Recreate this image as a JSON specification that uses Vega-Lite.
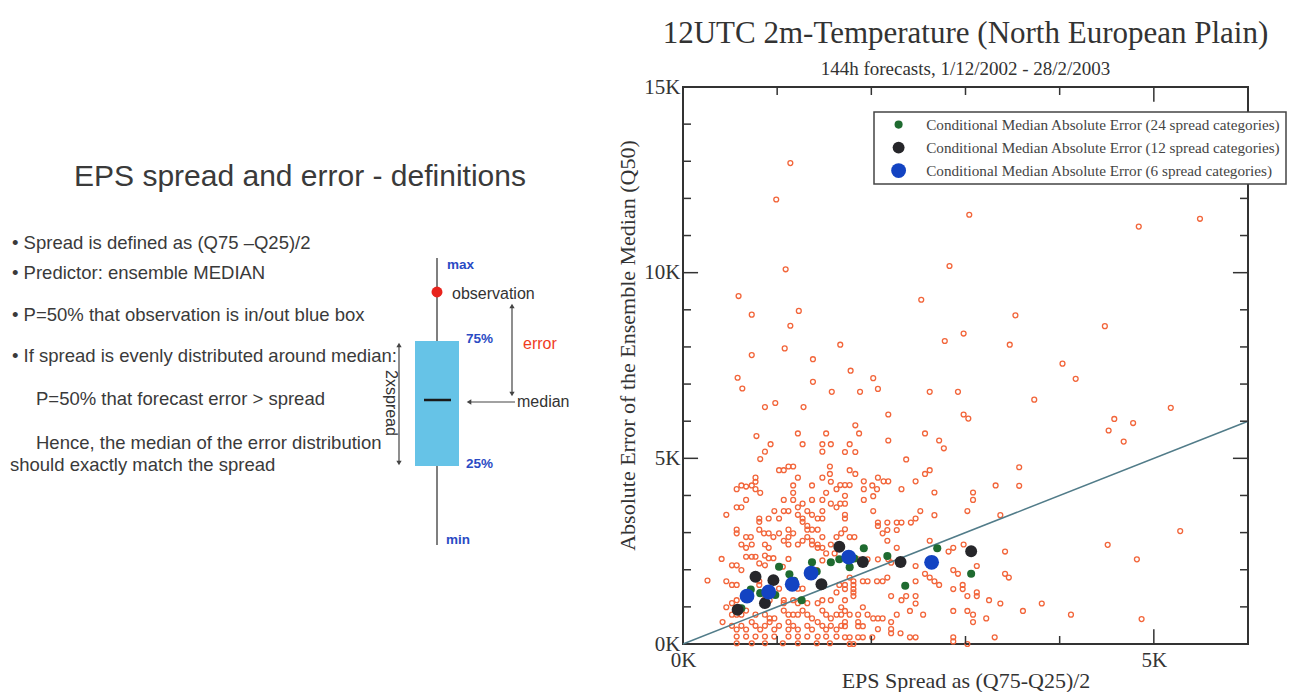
{
  "$schema": "https://vega.github.io/schema/vega-lite/v6.json",
  "width": 565,
  "height": 557,
  "autosize": {"type": "none"},
  "padding": {"left": 683, "top": 87, "right": 61, "bottom": 48},
  "background": "white",
  "title": {
    "text": "12UTC 2m-Temperature (North European Plain)",
    "subtitle": "144h forecasts, 1/12/2002 - 28/2/2003",
    "frame": "group",
    "anchor": "middle",
    "font": "Liberation Serif",
    "fontSize": 31,
    "fontWeight": "normal",
    "color": "#333333",
    "subtitleFont": "Liberation Serif",
    "subtitleFontSize": 19,
    "subtitleColor": "#333333",
    "subtitlePadding": 10,
    "offset": -4
  },
  "config": {
    "view": {"stroke": "#333333", "strokeWidth": 2},
    "legend": {"strokeWidth": 1.5}
  },
  "datasets": {
    "spreadError": [
      {"spread":1.14,"error":12.95},{"spread":0.99,"error":11.97},{"spread":3.04,"error":11.56},{"spread":1.09,"error":10.09},{"spread":2.83,"error":10.18},{"spread":0.59,"error":9.37},{"spread":2.53,"error":9.27},{"spread":0.73,"error":8.87},{"spread":1.23,"error":8.97},{"spread":1.14,"error":8.57},{"spread":2.98,"error":8.36},{"spread":2.78,"error":8.16},{"spread":0.73,"error":7.78},{"spread":1.08,"error":7.96},{"spread":1.67,"error":8.06},{"spread":1.38,"error":7.67},{"spread":1.78,"error":7.36},{"spread":0.58,"error":7.17},{"spread":0.63,"error":6.88},{"spread":1.38,"error":7.06},{"spread":2.02,"error":7.16},{"spread":2.07,"error":6.87},{"spread":1.58,"error":6.79},{"spread":1.88,"error":6.79},{"spread":2.62,"error":6.79},{"spread":2.92,"error":6.79},{"spread":0.87,"error":6.38},{"spread":0.98,"error":6.49},{"spread":1.28,"error":6.38},{"spread":2.18,"error":6.18},{"spread":2.98,"error":6.18},{"spread":3.03,"error":6.07},{"spread":1.83,"error":5.89},
      {"spread":4.84,"error":11.24},{"spread":5.49,"error":11.45},{"spread":3.53,"error":8.85},{"spread":4.48,"error":8.56},{"spread":3.47,"error":8.06},{"spread":4.03,"error":7.55},{"spread":4.17,"error":7.14},{"spread":3.73,"error":6.58},{"spread":5.18,"error":6.36},{"spread":4.58,"error":6.06},{"spread":4.78,"error":5.95},
      {"spread":4.52,"error":5.75},{"spread":4.68,"error":5.45},{"spread":3.57,"error":4.76},{"spread":3.57,"error":4.26},{"spread":3.37,"error":3.47},{"spread":5.28,"error":3.04},{"spread":4.51,"error":2.67},{"spread":4.82,"error":2.28},{"spread":3.42,"error":2.49},{"spread":3.42,"error":1.89},{"spread":3.46,"error":1.79},{"spread":3.37,"error":1.09},{"spread":3.61,"error":0.89},{"spread":3.81,"error":1.09},{"spread":4.12,"error":0.79},{"spread":4.87,"error":0.67},
      {"spread":1.87,"error":5.67},{"spread":2.18,"error":5.48},{"spread":2.57,"error":5.67},{"spread":2.72,"error":5.48},{"spread":2.77,"error":5.27},{"spread":1.77,"error":5.38},{"spread":1.72,"error":5.17},{"spread":1.83,"error":5.17},{"spread":2.37,"error":4.97},{"spread":1.77,"error":4.68},{"spread":1.83,"error":4.58},{"spread":2.62,"error":4.68},{"spread":2.57,"error":4.58},{"spread":2.07,"error":4.48},{"spread":2.13,"error":4.38},{"spread":2.18,"error":4.38},{"spread":1.92,"error":4.38},{"spread":2.47,"error":4.38},{"spread":1.67,"error":4.28},{"spread":1.72,"error":4.28},{"spread":1.77,"error":4.28},{"spread":2.01,"error":4.27},{"spread":1.92,"error":4.17},{"spread":2.06,"error":4.17},{"spread":2.32,"error":4.17},{"spread":3.32,"error":4.27},{"spread":3.08,"error":4.08},{"spread":3.08,"error":3.88},{"spread":2.67,"error":4.08},{"spread":1.72,"error":3.99},{"spread":2.02,"error":3.98},{"spread":1.92,"error":3.88},{"spread":1.72,"error":3.78},{"spread":1.67,"error":3.78},{"spread":2.02,"error":3.58},{"spread":2.52,"error":3.58},{"spread":3.02,"error":3.58},{"spread":1.72,"error":3.48},{"spread":1.72,"error":3.38},{"spread":2.47,"error":3.38},{"spread":2.42,"error":3.27},{"spread":2.32,"error":3.27},{"spread":2.17,"error":3.27},{"spread":2.27,"error":3.27},{"spread":2.07,"error":3.27},{"spread":2.07,"error":3.18},{"spread":2.67,"error":3.47},{"spread":1.72,"error":3.09},{"spread":2.17,"error":3.07},{"spread":2.27,"error":3.07},{"spread":2.12,"error":2.98},{"spread":1.77,"error":2.88},{"spread":1.82,"error":2.88},{"spread":2.17,"error":2.78},{"spread":2.62,"error":2.78},{"spread":2.27,"error":2.59},{"spread":2.82,"error":2.49},{"spread":2.87,"error":2.59},{"spread":2.98,"error":2.68},{"spread":1.86,"error":2.28},{"spread":1.96,"error":2.28},{"spread":2.07,"error":2.28},{"spread":2.18,"error":2.28},{"spread":2.21,"error":2.19},{"spread":2.47,"error":2.1},{"spread":2.87,"error":1.99},{"spread":2.92,"error":1.89},{"spread":3.12,"error":2.1},{"spread":2.57,"error":1.89},{"spread":2.62,"error":1.79},{"spread":2.17,"error":1.79},{"spread":1.77,"error":1.79},{"spread":1.81,"error":1.69},{"spread":1.91,"error":1.69},{"spread":1.96,"error":1.69},{"spread":2.06,"error":1.69},{"spread":2.12,"error":1.69},{"spread":1.72,"error":1.59},{"spread":1.81,"error":1.59},{"spread":1.72,"error":1.48},{"spread":1.81,"error":1.48},{"spread":2.67,"error":1.69},{"spread":2.72,"error":1.59},{"spread":2.47,"error":1.69},{"spread":2.87,"error":1.48},{"spread":2.97,"error":1.59},{"spread":2.97,"error":1.48},{"spread":3.12,"error":1.39},{"spread":3.12,"error":1.29},{"spread":3.02,"error":1.29},{"spread":1.81,"error":1.39},{"spread":1.81,"error":1.29},{"spread":2.21,"error":1.29},{"spread":2.47,"error":1.29},{"spread":2.37,"error":1.29},{"spread":2.32,"error":1.18},{"spread":2.47,"error":1.09},{"spread":3.25,"error":1.18},{"spread":1.91,"error":0.99},{"spread":1.72,"error":0.89},{"spread":1.77,"error":0.79},{"spread":1.86,"error":0.79},{"spread":1.96,"error":0.79},{"spread":2.02,"error":0.69},{"spread":2.07,"error":0.69},{"spread":2.12,"error":0.69},{"spread":2.27,"error":0.79},{"spread":2.41,"error":0.89},{"spread":2.55,"error":0.79},{"spread":2.87,"error":0.89},{"spread":3.02,"error":0.89},{"spread":3.08,"error":0.79},{"spread":3.22,"error":0.69},{"spread":3.08,"error":0.59},{"spread":1.86,"error":0.59},{"spread":1.86,"error":0.48},{"spread":1.91,"error":0.48},{"spread":1.72,"error":0.59},{"spread":1.72,"error":0.48},{"spread":2.07,"error":0.4},{"spread":2.21,"error":0.59},{"spread":2.21,"error":0.4},{"spread":2.21,"error":0.29},{"spread":2.31,"error":0.29},{"spread":2.41,"error":0.18},{"spread":2.47,"error":0.18},{"spread":2.87,"error":0.18},{"spread":2.87,"error":0.07},{"spread":3.02,"error":0.0},{"spread":3.31,"error":0.18},{"spread":1.72,"error":0.18},{"spread":1.77,"error":0.18},{"spread":1.86,"error":0.18},{"spread":1.91,"error":0.18},{"spread":1.77,"error":0.0},{"spread":1.81,"error":0.0},{"spread":2.01,"error":0.18},
      {"spread":0.78,"error":5.6},{"spread":1.22,"error":5.67},{"spread":1.52,"error":5.67},{"spread":0.93,"error":5.38},{"spread":1.27,"error":5.38},{"spread":1.48,"error":5.38},{"spread":1.57,"error":5.38},{"spread":0.87,"error":5.18},{"spread":1.48,"error":5.18},{"spread":0.82,"error":4.98},{"spread":1.02,"error":4.68},{"spread":1.07,"error":4.68},{"spread":1.12,"error":4.78},{"spread":1.17,"error":4.78},{"spread":1.56,"error":4.78},{"spread":1.56,"error":4.58},{"spread":1.22,"error":4.48},{"spread":0.77,"error":4.48},{"spread":0.77,"error":4.37},{"spread":1.48,"error":4.48},{"spread":0.57,"error":4.17},{"spread":0.62,"error":4.27},{"spread":0.73,"error":4.27},{"spread":0.77,"error":4.17},{"spread":0.82,"error":4.07},{"spread":0.67,"error":4.24},{"spread":1.17,"error":4.27},{"spread":1.17,"error":4.07},{"spread":1.37,"error":4.27},{"spread":1.52,"error":4.07},{"spread":1.57,"error":4.37},{"spread":1.63,"error":4.17},{"spread":0.67,"error":3.88},{"spread":1.07,"error":3.88},{"spread":1.17,"error":3.88},{"spread":1.37,"error":3.88},{"spread":1.48,"error":3.88},{"spread":0.57,"error":3.68},{"spread":0.62,"error":3.68},{"spread":1.22,"error":3.68},{"spread":1.27,"error":3.78},{"spread":1.57,"error":3.78},{"spread":1.63,"error":3.68},{"spread":0.46,"error":3.48},{"spread":0.97,"error":3.58},{"spread":1.07,"error":3.58},{"spread":1.12,"error":3.58},{"spread":1.22,"error":3.48},{"spread":1.32,"error":3.58},{"spread":1.37,"error":3.48},{"spread":1.48,"error":3.58},{"spread":1.48,"error":3.38},{"spread":0.91,"error":3.38},{"spread":1.02,"error":3.38},{"spread":0.81,"error":3.38},{"spread":0.81,"error":3.29},{"spread":1.27,"error":3.38},{"spread":1.27,"error":3.29},{"spread":1.43,"error":3.38},{"spread":0.57,"error":3.08},{"spread":0.57,"error":2.98},{"spread":0.67,"error":2.88},{"spread":0.72,"error":2.88},{"spread":0.81,"error":3.08},{"spread":0.86,"error":2.98},{"spread":0.91,"error":2.98},{"spread":0.96,"error":2.88},{"spread":1.02,"error":2.98},{"spread":1.12,"error":3.08},{"spread":1.17,"error":2.98},{"spread":1.12,"error":2.88},{"spread":1.32,"error":3.18},{"spread":1.32,"error":3.08},{"spread":1.37,"error":3.08},{"spread":1.43,"error":3.08},{"spread":1.32,"error":2.88},{"spread":1.37,"error":2.78},{"spread":1.48,"error":2.88},{"spread":1.63,"error":2.88},{"spread":1.68,"error":2.98},{"spread":0.62,"error":2.68},{"spread":0.67,"error":2.59},{"spread":0.73,"error":2.68},{"spread":0.87,"error":2.68},{"spread":0.91,"error":2.59},{"spread":1.07,"error":2.78},{"spread":1.12,"error":2.68},{"spread":1.22,"error":2.68},{"spread":1.27,"error":2.78},{"spread":1.37,"error":2.68},{"spread":1.43,"error":2.68},{"spread":1.43,"error":2.59},{"spread":1.48,"error":2.59},{"spread":1.57,"error":2.68},{"spread":0.41,"error":2.29},{"spread":0.52,"error":2.12},{"spread":0.57,"error":2.12},{"spread":0.67,"error":2.35},{"spread":0.73,"error":2.35},{"spread":0.77,"error":2.35},{"spread":0.87,"error":2.38},{"spread":0.91,"error":2.31},{"spread":0.96,"error":2.31},{"spread":1.12,"error":2.29},{"spread":0.81,"error":2.17},{"spread":0.87,"error":2.12},{"spread":1.06,"error":2.08},{"spread":0.62,"error":1.99},{"spread":1.48,"error":2.25},{"spread":1.52,"error":2.44},{"spread":1.61,"error":2.44},{"spread":0.26,"error":1.71},{"spread":0.46,"error":1.69},{"spread":0.52,"error":1.59},{"spread":0.57,"error":1.59},{"spread":0.81,"error":1.69},{"spread":0.81,"error":1.59},{"spread":1.02,"error":1.49},{"spread":1.22,"error":1.49},{"spread":1.27,"error":1.49},{"spread":1.42,"error":1.99},{"spread":1.66,"error":1.59},{"spread":1.63,"error":1.39},{"spread":0.46,"error":0.99},{"spread":0.52,"error":1.1},{"spread":0.57,"error":1.18},{"spread":0.86,"error":1.18},{"spread":0.92,"error":1.18},{"spread":1.07,"error":1.18},{"spread":1.07,"error":1.1},{"spread":1.17,"error":1.18},{"spread":1.22,"error":1.1},{"spread":1.32,"error":1.1},{"spread":1.43,"error":1.1},{"spread":1.48,"error":1.18},{"spread":1.57,"error":1.18},{"spread":1.68,"error":0.99},{"spread":1.72,"error":1.18},{"spread":0.42,"error":0.59},{"spread":0.52,"error":0.79},{"spread":0.57,"error":0.79},{"spread":0.62,"error":0.79},{"spread":0.67,"error":0.9},{"spread":0.77,"error":0.79},{"spread":0.87,"error":0.79},{"spread":0.92,"error":0.69},{"spread":0.97,"error":0.69},{"spread":1.07,"error":0.9},{"spread":1.12,"error":0.79},{"spread":1.17,"error":0.79},{"spread":1.22,"error":0.79},{"spread":1.27,"error":0.9},{"spread":1.32,"error":0.79},{"spread":1.37,"error":0.69},{"spread":1.48,"error":0.9},{"spread":1.52,"error":0.79},{"spread":1.57,"error":0.69},{"spread":1.63,"error":0.79},{"spread":1.68,"error":0.79},{"spread":0.52,"error":0.49},{"spread":0.57,"error":0.39},{"spread":0.62,"error":0.49},{"spread":0.67,"error":0.39},{"spread":0.73,"error":0.59},{"spread":0.77,"error":0.49},{"spread":0.82,"error":0.39},{"spread":0.87,"error":0.49},{"spread":0.92,"error":0.59},{"spread":0.97,"error":0.39},{"spread":1.02,"error":0.49},{"spread":1.12,"error":0.59},{"spread":1.12,"error":0.39},{"spread":1.17,"error":0.49},{"spread":1.22,"error":0.39},{"spread":1.32,"error":0.49},{"spread":1.37,"error":0.39},{"spread":1.43,"error":0.59},{"spread":1.48,"error":0.49},{"spread":1.52,"error":0.39},{"spread":1.57,"error":0.49},{"spread":1.63,"error":0.39},{"spread":1.68,"error":0.49},{"spread":0.57,"error":0.2},{"spread":0.67,"error":0.2},{"spread":0.77,"error":0.2},{"spread":0.87,"error":0.2},{"spread":0.97,"error":0.2},{"spread":1.12,"error":0.2},{"spread":1.22,"error":0.2},{"spread":1.32,"error":0.2},{"spread":1.43,"error":0.2},{"spread":1.52,"error":0.2},{"spread":1.63,"error":0.2},{"spread":0.57,"error":0.02},{"spread":0.73,"error":0.02},{"spread":0.87,"error":0.02},{"spread":1.06,"error":0.02},{"spread":1.22,"error":0.02},{"spread":1.42,"error":0.02},{"spread":1.56,"error":0.02}
    ],
    "medians": [
      {"spread":0.62,"error":0.96,"cat":"Conditional Median Absolute Error (24 spread categories)"},
      {"spread":0.72,"error":1.47,"cat":"Conditional Median Absolute Error (24 spread categories)"},
      {"spread":0.82,"error":1.37,"cat":"Conditional Median Absolute Error (24 spread categories)"},
      {"spread":0.9,"error":1.45,"cat":"Conditional Median Absolute Error (24 spread categories)"},
      {"spread":0.98,"error":1.32,"cat":"Conditional Median Absolute Error (24 spread categories)"},
      {"spread":1.02,"error":2.08,"cat":"Conditional Median Absolute Error (24 spread categories)"},
      {"spread":1.13,"error":1.88,"cat":"Conditional Median Absolute Error (24 spread categories)"},
      {"spread":1.18,"error":1.7,"cat":"Conditional Median Absolute Error (24 spread categories)"},
      {"spread":1.26,"error":1.18,"cat":"Conditional Median Absolute Error (24 spread categories)"},
      {"spread":1.37,"error":2.2,"cat":"Conditional Median Absolute Error (24 spread categories)"},
      {"spread":1.42,"error":1.95,"cat":"Conditional Median Absolute Error (24 spread categories)"},
      {"spread":1.57,"error":2.2,"cat":"Conditional Median Absolute Error (24 spread categories)"},
      {"spread":1.66,"error":2.28,"cat":"Conditional Median Absolute Error (24 spread categories)"},
      {"spread":1.77,"error":2.07,"cat":"Conditional Median Absolute Error (24 spread categories)"},
      {"spread":1.82,"error":2.3,"cat":"Conditional Median Absolute Error (24 spread categories)"},
      {"spread":1.92,"error":2.58,"cat":"Conditional Median Absolute Error (24 spread categories)"},
      {"spread":2.17,"error":2.37,"cat":"Conditional Median Absolute Error (24 spread categories)"},
      {"spread":2.36,"error":1.57,"cat":"Conditional Median Absolute Error (24 spread categories)"},
      {"spread":2.7,"error":2.58,"cat":"Conditional Median Absolute Error (24 spread categories)"},
      {"spread":3.06,"error":1.89,"cat":"Conditional Median Absolute Error (24 spread categories)"},
      {"spread":0.58,"error":0.92,"cat":"Conditional Median Absolute Error (12 spread categories)"},
      {"spread":0.77,"error":1.81,"cat":"Conditional Median Absolute Error (12 spread categories)"},
      {"spread":0.87,"error":1.1,"cat":"Conditional Median Absolute Error (12 spread categories)"},
      {"spread":0.96,"error":1.72,"cat":"Conditional Median Absolute Error (12 spread categories)"},
      {"spread":1.47,"error":1.61,"cat":"Conditional Median Absolute Error (12 spread categories)"},
      {"spread":1.66,"error":2.62,"cat":"Conditional Median Absolute Error (12 spread categories)"},
      {"spread":1.91,"error":2.21,"cat":"Conditional Median Absolute Error (12 spread categories)"},
      {"spread":2.31,"error":2.21,"cat":"Conditional Median Absolute Error (12 spread categories)"},
      {"spread":3.06,"error":2.5,"cat":"Conditional Median Absolute Error (12 spread categories)"},
      {"spread":0.68,"error":1.29,"cat":"Conditional Median Absolute Error (6 spread categories)"},
      {"spread":0.91,"error":1.4,"cat":"Conditional Median Absolute Error (6 spread categories)"},
      {"spread":1.16,"error":1.61,"cat":"Conditional Median Absolute Error (6 spread categories)"},
      {"spread":1.36,"error":1.91,"cat":"Conditional Median Absolute Error (6 spread categories)"},
      {"spread":1.76,"error":2.34,"cat":"Conditional Median Absolute Error (6 spread categories)"},
      {"spread":2.64,"error":2.2,"cat":"Conditional Median Absolute Error (6 spread categories)"}
    ],
    "xMinor": [{"v":1},{"v":2},{"v":3},{"v":4}],
    "xMajor": [{"v":5}],
    "yMinor": [{"v":1},{"v":2},{"v":3},{"v":4},{"v":6},{"v":7},{"v":8},{"v":9},{"v":11},{"v":12},{"v":13},{"v":14}],
    "yMajor": [{"v":5},{"v":10}]
  },
  "layer": [
    {
      "layer": [
        {
          "data": {"name": "spreadError"},
          "mark": {"type": "point", "shape": "circle", "filled": false, "stroke": "#f2653a", "strokeWidth": 1.3, "size": 24, "opacity": 1},
          "encoding": {
            "x": {"field": "spread", "type": "quantitative", "scale": {"domain": [0, 6], "nice": false},
              "axis": {"values": [0, 5], "labelExpr": "datum.value + 'K'", "ticks": false, "domain": false, "grid": false, "labelFlush": false,
                "labelFont": "Liberation Serif", "labelFontSize": 21, "labelColor": "#333333", "labelPadding": 5,
                "title": "EPS Spread as (Q75-Q25)/2", "titleFont": "Liberation Serif", "titleFontSize": 22, "titleFontWeight": "normal", "titleColor": "#333333", "titleY": 36, "titleBaseline": "middle"}},
            "y": {"field": "error", "type": "quantitative", "scale": {"domain": [0, 15], "nice": false},
              "axis": {"values": [0, 5, 10, 15], "labelExpr": "datum.value + 'K'", "ticks": false, "domain": false, "grid": false, "labelFlush": false,
                "labelFont": "Liberation Serif", "labelFontSize": 21, "labelColor": "#333333", "labelPadding": 3,
                "title": "Absolute Error of the Ensemble Median (Q50)", "titleFont": "Liberation Serif", "titleFontSize": 22, "titleFontWeight": "normal", "titleColor": "#333333",
                "titleX": -56, "titleY": 258, "titleAngle": -90, "titleAlign": "center", "titleBaseline": "middle"}}
          }
        },
        {
          "data": {"values": [{"x1": 0, "y1": 0, "x2": 6, "y2": 6}]},
          "mark": {"type": "rule", "color": "#517c89", "strokeWidth": 1.5},
          "encoding": {
            "x": {"field": "x1", "type": "quantitative", "scale": {"domain": [0, 6], "nice": false}, "title": "EPS Spread as (Q75-Q25)/2"},
            "y": {"field": "y1", "type": "quantitative", "scale": {"domain": [0, 15], "nice": false}, "title": "Absolute Error of the Ensemble Median (Q50)"},
            "x2": {"field": "x2"},
            "y2": {"field": "y2"}
          }
        },
        {
          "data": {"name": "medians"},
          "mark": {"type": "point", "shape": "circle", "filled": true, "opacity": 1, "strokeWidth": 0},
          "encoding": {
            "x": {"field": "spread", "type": "quantitative", "scale": {"domain": [0, 6], "nice": false}, "title": "EPS Spread as (Q75-Q25)/2"},
            "y": {"field": "error", "type": "quantitative", "scale": {"domain": [0, 15], "nice": false}, "title": "Absolute Error of the Ensemble Median (Q50)"},
            "color": {"field": "cat", "type": "ordinal",
              "scale": {"domain": ["Conditional Median Absolute Error (24 spread categories)", "Conditional Median Absolute Error (12 spread categories)", "Conditional Median Absolute Error (6 spread categories)"], "range": ["#1f6b30", "#26262a", "#1343c2"]},
              "legend": {"orient": "none", "legendX": 191, "legendY": 25, "title": null, "fillColor": "white", "strokeColor": "#444444", "padding": 5, "rowPadding": 7, "symbolOffset": 12, "labelOffset": 20, "labelFont": "Liberation Serif", "labelFontSize": 15.2, "labelColor": "#444444", "labelLimit": 600, "symbolStrokeWidth": 0}},
            "size": {"field": "cat", "type": "ordinal",
              "scale": {"domain": ["Conditional Median Absolute Error (24 spread categories)", "Conditional Median Absolute Error (12 spread categories)", "Conditional Median Absolute Error (6 spread categories)"], "range": [65, 220], "padding": 0}}
          }
        },
        {
          "data": {"name": "xMinor"},
          "mark": {"type": "rule", "color": "#333333", "strokeWidth": 1.5},
          "encoding": {"x": {"field": "v", "type": "quantitative", "scale": {"domain": [0, 6], "nice": false}, "title": "EPS Spread as (Q75-Q25)/2"}, "y": {"datum": 0, "type": "quantitative", "scale": {"domain": [0, 15], "nice": false}, "title": "Absolute Error of the Ensemble Median (Q50)"}, "y2": {"datum": 0.215}}
        },
        {
          "data": {"name": "xMajor"},
          "mark": {"type": "rule", "color": "#333333", "strokeWidth": 1.5},
          "encoding": {"x": {"field": "v", "type": "quantitative", "scale": {"domain": [0, 6], "nice": false}, "title": "EPS Spread as (Q75-Q25)/2"}, "y": {"datum": 0, "type": "quantitative", "scale": {"domain": [0, 15], "nice": false}, "title": "Absolute Error of the Ensemble Median (Q50)"}, "y2": {"datum": 0.4}}
        },
        {
          "data": {"name": "xMinor"},
          "mark": {"type": "rule", "color": "#333333", "strokeWidth": 1.5},
          "encoding": {"x": {"field": "v", "type": "quantitative", "scale": {"domain": [0, 6], "nice": false}, "title": "EPS Spread as (Q75-Q25)/2"}, "y": {"datum": 15, "type": "quantitative", "scale": {"domain": [0, 15], "nice": false}, "title": "Absolute Error of the Ensemble Median (Q50)"}, "y2": {"datum": 14.785}}
        },
        {
          "data": {"name": "xMajor"},
          "mark": {"type": "rule", "color": "#333333", "strokeWidth": 1.5},
          "encoding": {"x": {"field": "v", "type": "quantitative", "scale": {"domain": [0, 6], "nice": false}, "title": "EPS Spread as (Q75-Q25)/2"}, "y": {"datum": 15, "type": "quantitative", "scale": {"domain": [0, 15], "nice": false}, "title": "Absolute Error of the Ensemble Median (Q50)"}, "y2": {"datum": 14.6}}
        },
        {
          "data": {"name": "yMinor"},
          "mark": {"type": "rule", "color": "#333333", "strokeWidth": 1.5},
          "encoding": {"y": {"field": "v", "type": "quantitative", "scale": {"domain": [0, 15], "nice": false}, "title": "Absolute Error of the Ensemble Median (Q50)"}, "x": {"datum": 0, "type": "quantitative", "scale": {"domain": [0, 6], "nice": false}, "title": "EPS Spread as (Q75-Q25)/2"}, "x2": {"datum": 0.085}}
        },
        {
          "data": {"name": "yMajor"},
          "mark": {"type": "rule", "color": "#333333", "strokeWidth": 1.5},
          "encoding": {"y": {"field": "v", "type": "quantitative", "scale": {"domain": [0, 15], "nice": false}, "title": "Absolute Error of the Ensemble Median (Q50)"}, "x": {"datum": 0, "type": "quantitative", "scale": {"domain": [0, 6], "nice": false}, "title": "EPS Spread as (Q75-Q25)/2"}, "x2": {"datum": 0.16}}
        },
        {
          "data": {"name": "yMinor"},
          "mark": {"type": "rule", "color": "#333333", "strokeWidth": 1.5},
          "encoding": {"y": {"field": "v", "type": "quantitative", "scale": {"domain": [0, 15], "nice": false}, "title": "Absolute Error of the Ensemble Median (Q50)"}, "x": {"datum": 6, "type": "quantitative", "scale": {"domain": [0, 6], "nice": false}, "title": "EPS Spread as (Q75-Q25)/2"}, "x2": {"datum": 5.915}}
        },
        {
          "data": {"name": "yMajor"},
          "mark": {"type": "rule", "color": "#333333", "strokeWidth": 1.5},
          "encoding": {"y": {"field": "v", "type": "quantitative", "scale": {"domain": [0, 15], "nice": false}, "title": "Absolute Error of the Ensemble Median (Q50)"}, "x": {"datum": 6, "type": "quantitative", "scale": {"domain": [0, 6], "nice": false}, "title": "EPS Spread as (Q75-Q25)/2"}, "x2": {"datum": 5.84}}
        }
      ]
    },
    {
      "layer": [
        {
          "data": {"values": [{"x": 437, "y": 258, "x2": 437, "y2": 545}]},
          "mark": {"type": "rule", "color": "#555555", "strokeWidth": 1.5},
          "encoding": {
            "x": {"field": "x", "type": "quantitative", "scale": {"domain": [0, 683], "range": [-683, 0], "nice": false, "zero": false}, "axis": null},
            "y": {"field": "y", "type": "quantitative", "scale": {"domain": [0, 692], "range": [-87, 605], "nice": false, "zero": false}, "axis": null},
            "x2": {"field": "x2"}, "y2": {"field": "y2"}
          }
        },
        {
          "data": {"values": [{"x": 415, "y": 341, "x2": 459, "y2": 466}]},
          "mark": {"type": "rect", "color": "#66c3e7"},
          "encoding": {
            "x": {"field": "x", "type": "quantitative", "scale": {"domain": [0, 683], "range": [-683, 0], "nice": false, "zero": false}, "axis": null},
            "y": {"field": "y", "type": "quantitative", "scale": {"domain": [0, 692], "range": [-87, 605], "nice": false, "zero": false}, "axis": null},
            "x2": {"field": "x2"}, "y2": {"field": "y2"}
          }
        },
        {
          "data": {"values": [{"x": 424, "y": 400, "x2": 451, "y2": 400}]},
          "mark": {"type": "rule", "color": "#1a1a1a", "strokeWidth": 2.5},
          "encoding": {
            "x": {"field": "x", "type": "quantitative", "scale": {"domain": [0, 683], "range": [-683, 0], "nice": false, "zero": false}, "axis": null},
            "y": {"field": "y", "type": "quantitative", "scale": {"domain": [0, 692], "range": [-87, 605], "nice": false, "zero": false}, "axis": null},
            "x2": {"field": "x2"}, "y2": {"field": "y2"}
          }
        },
        {
          "data": {"values": [{"x": 512, "y": 307, "x2": 512, "y2": 393}, {"x": 471, "y": 402, "x2": 515, "y2": 402}, {"x": 399, "y": 346, "x2": 399, "y2": 462}]},
          "mark": {"type": "rule", "color": "#444444", "strokeWidth": 1.2},
          "encoding": {
            "x": {"field": "x", "type": "quantitative", "scale": {"domain": [0, 683], "range": [-683, 0], "nice": false, "zero": false}, "axis": null},
            "y": {"field": "y", "type": "quantitative", "scale": {"domain": [0, 692], "range": [-87, 605], "nice": false, "zero": false}, "axis": null},
            "x2": {"field": "x2"}, "y2": {"field": "y2"}
          }
        },
        {
          "data": {"values": [{"x": 512, "y": 306, "dir": "up"}, {"x": 512, "y": 394, "dir": "down"}, {"x": 469, "y": 402, "dir": "left"}, {"x": 399, "y": 345, "dir": "up"}, {"x": 399, "y": 463, "dir": "down"}]},
          "mark": {"type": "point", "filled": true, "color": "#444444", "opacity": 1, "size": 28},
          "encoding": {
            "x": {"field": "x", "type": "quantitative", "scale": {"domain": [0, 683], "range": [-683, 0], "nice": false, "zero": false}, "axis": null},
            "y": {"field": "y", "type": "quantitative", "scale": {"domain": [0, 692], "range": [-87, 605], "nice": false, "zero": false}, "axis": null},
            "shape": {"field": "dir", "type": "nominal", "scale": {"domain": ["up", "down", "left"], "range": ["triangle-up", "triangle-down", "triangle-left"]}, "legend": null}
          }
        },
        {
          "data": {"values": [{"x": 437, "y": 292}]},
          "mark": {"type": "point", "filled": true, "shape": "circle", "color": "#e8231c", "opacity": 1, "size": 120},
          "encoding": {
            "x": {"field": "x", "type": "quantitative", "scale": {"domain": [0, 683], "range": [-683, 0], "nice": false, "zero": false}, "axis": null},
            "y": {"field": "y", "type": "quantitative", "scale": {"domain": [0, 692], "range": [-87, 605], "nice": false, "zero": false}, "axis": null}
          }
        },
        {
          "data": {"values": [{"t": "EPS spread and error - definitions", "x": 300, "y": 177}]},
          "mark": {"type": "text", "font": "Liberation Sans", "fontSize": 30, "color": "#3a3a3a", "align": "center", "baseline": "middle"},
          "encoding": {
            "x": {"field": "x", "type": "quantitative", "scale": {"domain": [0, 683], "range": [-683, 0], "nice": false, "zero": false}, "axis": null},
            "y": {"field": "y", "type": "quantitative", "scale": {"domain": [0, 692], "range": [-87, 605], "nice": false, "zero": false}, "axis": null},
            "text": {"field": "t"}
          }
        },
        {
          "data": {"values": [
            {"t": "• Spread is defined as (Q75 –Q25)/2", "x": 12, "y": 243},
            {"t": "• Predictor: ensemble MEDIAN", "x": 12, "y": 273},
            {"t": "• P=50% that observation is in/out blue box", "x": 12, "y": 315},
            {"t": "• If spread is evenly distributed around median:", "x": 12, "y": 356},
            {"t": "P=50% that forecast error > spread", "x": 36, "y": 399},
            {"t": "Hence, the median of the error distribution", "x": 36, "y": 443},
            {"t": "should exactly match the spread", "x": 10, "y": 465}
          ]},
          "mark": {"type": "text", "font": "Liberation Sans", "fontSize": 18.5, "color": "#3a3a3a", "align": "left", "baseline": "middle"},
          "encoding": {
            "x": {"field": "x", "type": "quantitative", "scale": {"domain": [0, 683], "range": [-683, 0], "nice": false, "zero": false}, "axis": null},
            "y": {"field": "y", "type": "quantitative", "scale": {"domain": [0, 692], "range": [-87, 605], "nice": false, "zero": false}, "axis": null},
            "text": {"field": "t"}
          }
        },
        {
          "data": {"values": [{"t": "observation", "x": 452, "y": 294}, {"t": "median", "x": 517, "y": 402}]},
          "mark": {"type": "text", "font": "Liberation Sans", "fontSize": 16, "color": "#333333", "align": "left", "baseline": "middle"},
          "encoding": {
            "x": {"field": "x", "type": "quantitative", "scale": {"domain": [0, 683], "range": [-683, 0], "nice": false, "zero": false}, "axis": null},
            "y": {"field": "y", "type": "quantitative", "scale": {"domain": [0, 692], "range": [-87, 605], "nice": false, "zero": false}, "axis": null},
            "text": {"field": "t"}
          }
        },
        {
          "data": {"values": [{"t": "2xspread", "x": 391, "y": 403}]},
          "mark": {"type": "text", "font": "Liberation Sans", "fontSize": 16, "color": "#333333", "align": "center", "baseline": "middle", "angle": 90},
          "encoding": {
            "x": {"field": "x", "type": "quantitative", "scale": {"domain": [0, 683], "range": [-683, 0], "nice": false, "zero": false}, "axis": null},
            "y": {"field": "y", "type": "quantitative", "scale": {"domain": [0, 692], "range": [-87, 605], "nice": false, "zero": false}, "axis": null},
            "text": {"field": "t"}
          }
        },
        {
          "data": {"values": [{"t": "max", "x": 447, "y": 265}, {"t": "75%", "x": 466, "y": 339}, {"t": "25%", "x": 466, "y": 464}, {"t": "min", "x": 446, "y": 540}]},
          "mark": {"type": "text", "font": "Liberation Sans", "fontSize": 13.5, "fontWeight": "bold", "color": "#2a4bc4", "align": "left", "baseline": "middle"},
          "encoding": {
            "x": {"field": "x", "type": "quantitative", "scale": {"domain": [0, 683], "range": [-683, 0], "nice": false, "zero": false}, "axis": null},
            "y": {"field": "y", "type": "quantitative", "scale": {"domain": [0, 692], "range": [-87, 605], "nice": false, "zero": false}, "axis": null},
            "text": {"field": "t"}
          }
        },
        {
          "data": {"values": [{"t": "error", "x": 523, "y": 344}]},
          "mark": {"type": "text", "font": "Liberation Sans", "fontSize": 16, "color": "#f03c1e", "align": "left", "baseline": "middle"},
          "encoding": {
            "x": {"field": "x", "type": "quantitative", "scale": {"domain": [0, 683], "range": [-683, 0], "nice": false, "zero": false}, "axis": null},
            "y": {"field": "y", "type": "quantitative", "scale": {"domain": [0, 692], "range": [-87, 605], "nice": false, "zero": false}, "axis": null},
            "text": {"field": "t"}
          }
        }
      ]
    }
  ],
  "resolve": {"scale": {"x": "independent", "y": "independent"}}
}
